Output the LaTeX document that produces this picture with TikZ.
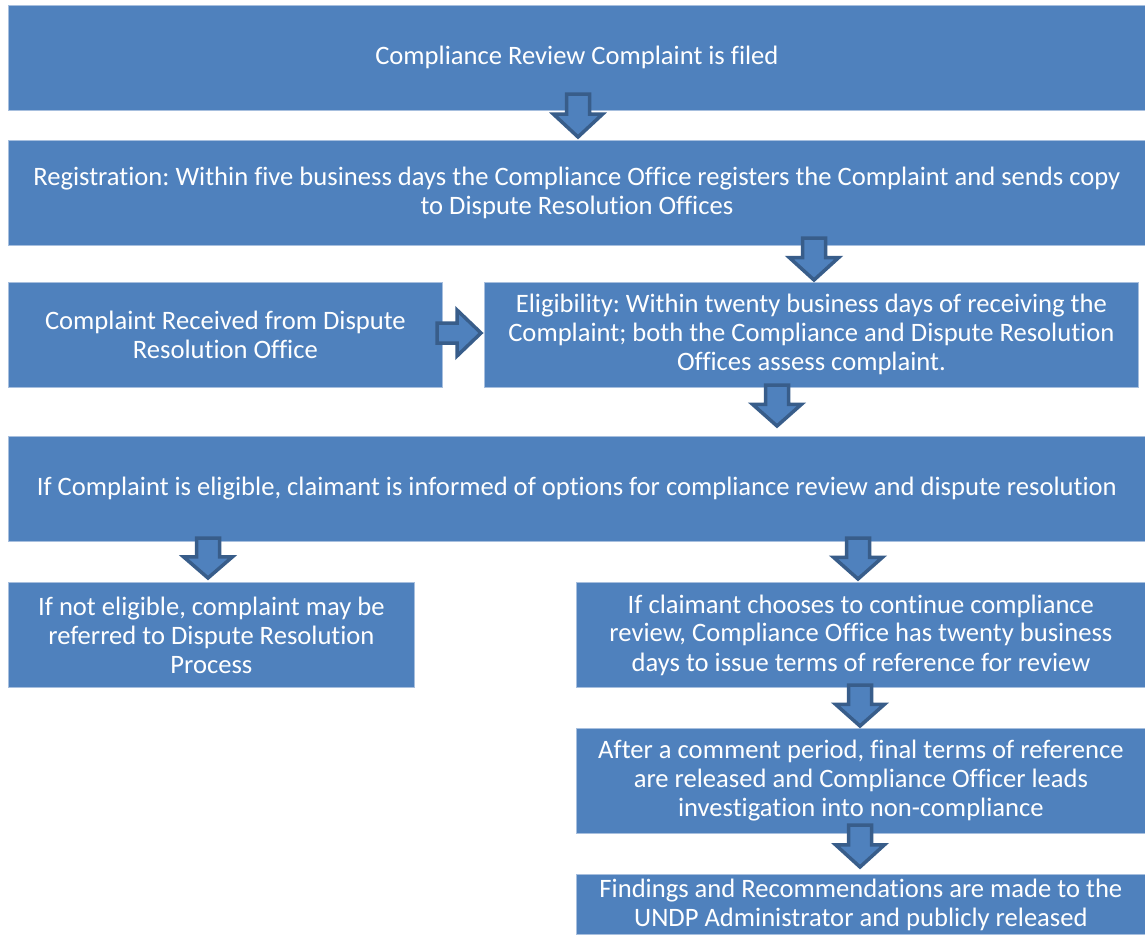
\documentclass[tikz,border=0pt]{standalone}
\usepackage{fontspec}
\setmainfont[Ligatures={TeX,NoCommon}]{Carlito}
\frenchspacing
\definecolor{boxblue}{HTML}{4F81BD}
\definecolor{arrline}{HTML}{385D8A}
\definecolor{edgeblue}{HTML}{A7BFDE}
\newcommand{\blkdown}[3]{% cx, ytop, ybot
  \draw[blockarrow] ({#1-11.5},#2) -- ({#1+11.5},#2) -- ({#1+11.5},{#2+0.47*(#3-#2)}) -- ({#1+24.5},{#2+0.47*(#3-#2)}) -- (#1,#3) -- ({#1-24.5},{#2+0.47*(#3-#2)}) -- ({#1-11.5},{#2+0.47*(#3-#2)}) -- cycle;}
\begin{document}
\begin{tikzpicture}[x=1pt,y=-1pt,
  box/.style={fill=boxblue,draw=edgeblue,line width=0.8pt,text=white,align=center,anchor=north west,inner sep=0pt,
     font=\fontsize{26.6}{29}\selectfont\frenchspacing},
  blockarrow/.style={fill=boxblue,draw=arrline,line width=3.5pt,line join=miter}]
\useasboundingbox (0,0) rectangle (1145,934);
\fill[white] (0,0) rectangle (1145,934);
\node[box,minimum width=1137pt,minimum height=105pt] (b1) at (8,5) {Compliance Review Complaint is filed};
\node[box,minimum width=1137pt,minimum height=105pt] (b2) at (8,140) {Registration: Within five business days the Compliance Office registers the Complaint and sends copy\\to Dispute Resolution Offices};
\node[box,minimum width=434pt,minimum height=105pt] (b3a) at (8,282) {Complaint Received from Dispute\\Resolution Office};
\node[box,minimum width=654pt,minimum height=105pt] (b3b) at (484,282) {Eligibility: Within twenty business days of receiving the\\Complaint; both the Compliance and Dispute Resolution\\Offices assess complaint.};
\node[box,minimum width=1137pt,minimum height=105pt] (b4) at (8,436) {If Complaint is eligible, claimant is informed of options for compliance review and dispute resolution};
\node[box,minimum width=406pt,minimum height=105pt] (b5a) at (8,582) {If not eligible, complaint may be\\referred to Dispute Resolution\\Process};
\node[box,minimum width=569pt,minimum height=105pt] (b5b) at (576,582) {If claimant chooses to continue compliance\\review, Compliance Office has twenty business\\days to issue terms of reference for review};
\node[box,minimum width=569pt,minimum height=105pt] (b6) at (576,728) {After a comment period, final terms of reference\\are released and Compliance Officer leads\\investigation into non-compliance};
\node[box,minimum width=569pt,minimum height=60pt] (b7) at (576,874) {Findings and Recommendations are made to the\\UNDP Administrator and publicly released};
% block arrows
\blkdown{578}{94}{137}
\blkdown{814}{238}{280}
\blkdown{777}{385}{426}
\blkdown{208}{538}{578}
\blkdown{858}{538}{579}
\blkdown{860}{685}{726}
\blkdown{860}{825}{867}
\draw[blockarrow] (437,323) -- (457,323) -- (457,310) -- (481,333) -- (457,356) -- (457,343) -- (437,343) -- cycle;
\end{tikzpicture}
\end{document}
